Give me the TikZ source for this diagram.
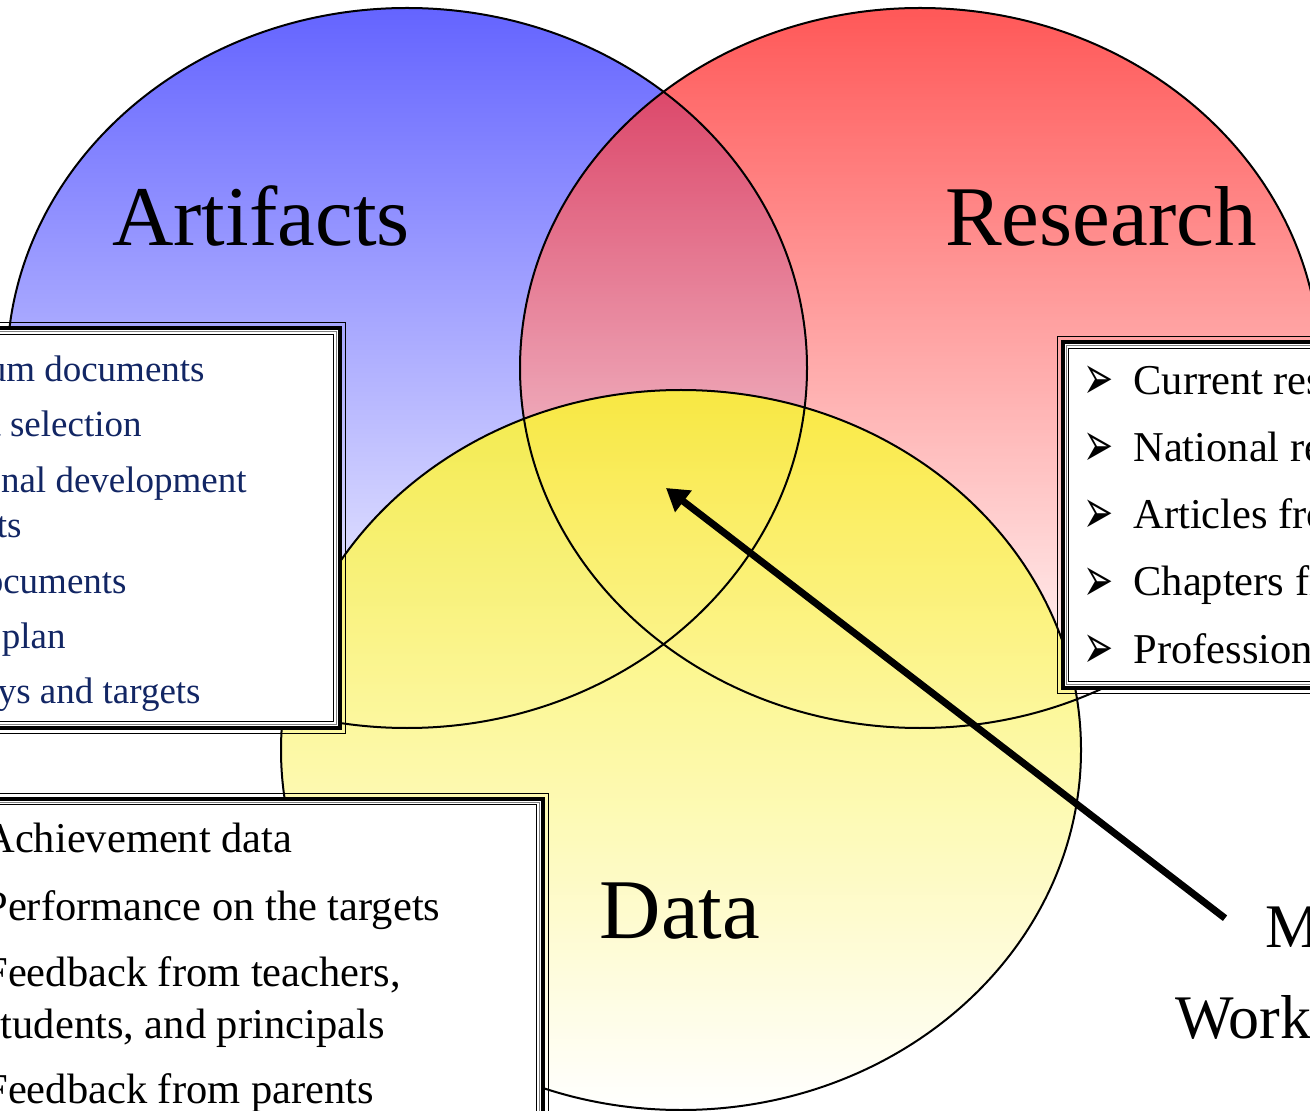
\documentclass[tikz,border=0pt]{standalone}
\usepackage{fontspec}
\setmainfont{Liberation Serif}
\newfontfamily\dingfont{DejaVu Sans}
\usepackage{graphicx}
\usepackage{tikz}
\usetikzlibrary{arrows.meta}
\definecolor{artblue}{RGB}{100,100,255}
\definecolor{resred}{RGB}{255,32,32}
\definecolor{datayellow}{RGB}{250,240,56}
\definecolor{inknavy}{RGB}{18,38,100}

% framed list box: outer hairline, thick rule, grey and black inner rules
\newcommand{\listframe}[4]{%
  \draw[line width=0.5pt] (#1,#2) rectangle (#3,#4);
  \draw[line width=2pt, fill=white] (#1+5.5,#2+5.5) rectangle (#3-5.5,#4-5.5);
  \draw[gray, line width=0.5pt] (#1+9,#2+9) rectangle (#3-9,#4-9);
  \draw[line width=0.75pt] (#1+11.5,#2+11.5) rectangle (#3-11.5,#4-11.5);
}
\newcommand{\arrbullet}{\makebox[25pt][l]{\raisebox{-2.5pt}{\scalebox{1}[1.75]{\dingfont\fontsize{18}{20}\selectfont ➢}}}}

\begin{document}
\begin{tikzpicture}[x=0.5pt, y=-0.5pt,
    ring/.style={draw=black, line width=1pt},
    setlabel/.style={font=\fontsize{42.5}{51}\selectfont, inner sep=0pt, anchor=base},
    artitem/.style={font=\fontsize{18.5}{22}\selectfont, text=inknavy, inner sep=0pt, anchor=base east},
    listitem/.style={font=\fontsize{21.25}{25.5}\selectfont, inner sep=0pt, anchor=base west},
    goallabel/.style={font=\fontsize{31}{37}\selectfont, inner sep=0pt, anchor=base west},
    pointer/.style={line width=3.5pt, -{Triangle[length=11pt, width=13pt]}}
]
\useasboundingbox (0,0) rectangle (1310,1111);
\clip (0,0) rectangle (1310,1111);

\shade[top color=artblue, bottom color=white] (407,368) ellipse [x radius=400, y radius=360];
\shade[top color=resred, bottom color=white, fill opacity=0.75] (920,368) ellipse [x radius=400, y radius=360];
\shade[top color=datayellow, bottom color=white, fill opacity=0.9] (681,750) ellipse [x radius=400, y radius=360];

\draw[ring] (407,368) ellipse [x radius=400, y radius=360];
\draw[ring] (920,368) ellipse [x radius=400, y radius=360];
\draw[ring] (681,750) ellipse [x radius=400, y radius=360];

\node[setlabel] (artifacts) at (261,246) {Artifacts};
\node[setlabel] (research) at (1101,246) {Research};
\node[setlabel] (data) at (680,938) {Data};

\listframe{-30}{323}{345}{733}
\node[artitem] (curric) at (205,382) {um documents};
\node[artitem] (select) at (142,437) {t selection};
\node[artitem] (profdev) at (247,493) {nal development};
\node[artitem] (profdev2) at (22,538) {ts};
\node[artitem] (docs) at (127,593) {ocuments};
\node[artitem] (plan) at (66,648) {plan};
\node[artitem] (targets) at (201,703) {ys and targets};

\listframe{1057}{337}{1340}{693}
\node[listitem] (current) at (1083,395) {\arrbullet Current res};
\node[listitem] (national) at (1083,462) {\arrbullet National re};
\node[listitem] (articles) at (1083,529) {\arrbullet Articles fro};
\node[listitem] (chapters) at (1083,596) {\arrbullet Chapters fr};
\node[listitem] (profession) at (1083,663) {\arrbullet Profession};

\listframe{-30}{793}{548}{1140}
\node[listitem] (achieve) at (-16,852) {Achievement data};
\node[listitem] (perform) at (-16,920) {Performance on the targets};
\node[listitem] (teachers) at (-16,986) {Feedback from teachers,};
\node[listitem] (students) at (-16,1038) {students, and principals};
\node[listitem] (parents) at (-16,1103) {Feedback from parents};

\node[goallabel] (mlabel) at (1265,947) {M};
\node[goallabel] (work) at (1175,1038) {Work};

\coordinate (core) at (666,488);
\draw[pointer] ([shift={(-40,-8.5)}]mlabel.west) -- (core);

\end{tikzpicture}
\end{document}
